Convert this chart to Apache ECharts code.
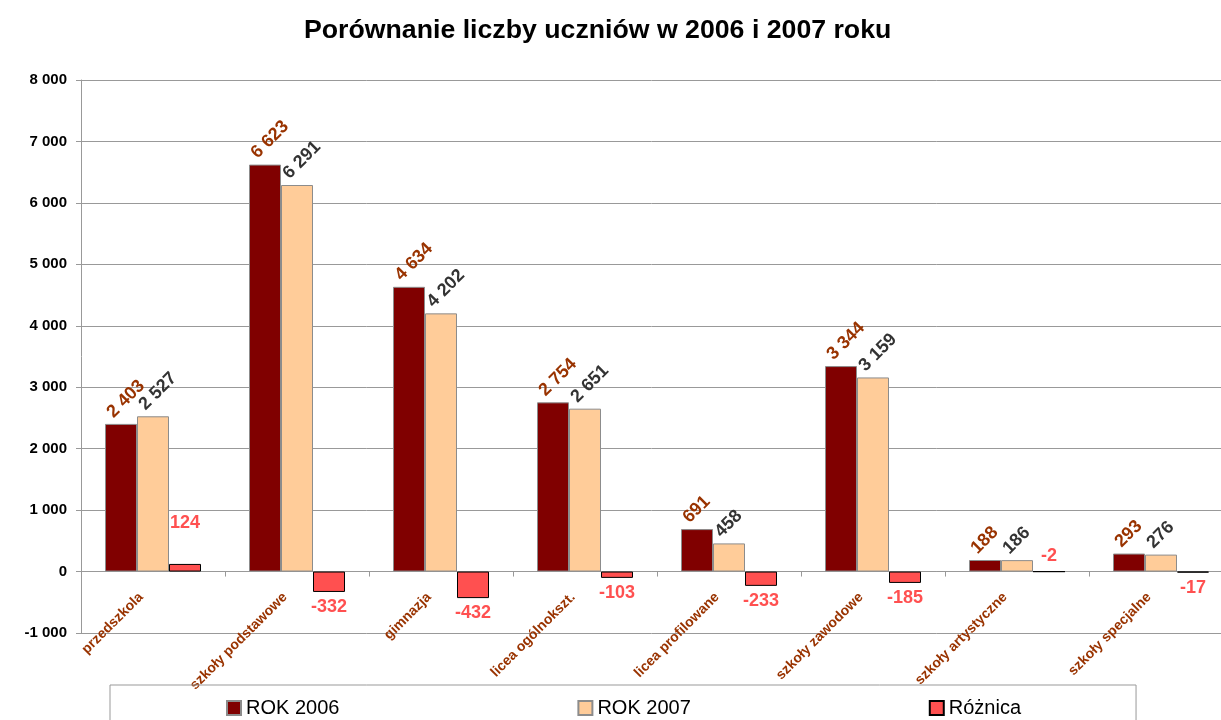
<!DOCTYPE html>
<html>
<head>
<meta charset="utf-8">
<script src="https://cdn.jsdelivr.net/npm/echarts@6/dist/echarts.min.js"></script>
<style>
  html, body { margin: 0; padding: 0; background: #fff; }
  #main { width: 1221px; height: 720px; }
</style>
</head>
<body>
<div id="main"></div>
<script>
var categories = ['przedszkola', 'szkoły podstawowe', 'gimnazja', 'licea ogólnokszt.',
  'licea profilowane', 'szkoły zawodowe', 'szkoły artystyczne', 'szkoły specjalne'];
var rok2006 = [2403, 6623, 4634, 2754, 691, 3344, 188, 293];
var rok2007 = [2527, 6291, 4202, 2651, 458, 3159, 186, 276];
var roznica = [124, -332, -432, -103, -233, -185, -2, -17];

var font = 'Liberation Sans, Arial, sans-serif';

function fmt(v) {
  return String(v).replace(/\B(?=(\d{3})+(?!\d))/g, ' ');
}

var myChart = echarts.init(document.getElementById('main'));

var rotLabel = function (color) {
  return {
    show: true,
    position: [5, -9],
    rotate: 45,
    align: 'left',
    verticalAlign: 'middle',
    color: color,
    fontFamily: font,
    fontSize: 18,
    fontWeight: 'bold',
    formatter: function (p) { return fmt(p.value); }
  };
};

myChart.setOption({
  animation: false,
  title: {
    text: 'Porównanie liczby uczniów w 2006 i 2007 roku',
    left: 299,
    top: 12,
    textStyle: { fontFamily: font, fontSize: 26.7, fontWeight: 'bold', color: '#000' }
  },
  legend: {
    left: 110,
    top: 685,
    padding: [13, 115, 40, 116],
    itemGap: 238,
    itemWidth: 14,
    itemHeight: 14,
    icon: 'rect',
    borderColor: '#999',
    borderWidth: 1,
    textStyle: { fontFamily: font, fontSize: 20, color: '#000' },
    data: ['ROK 2006', 'ROK 2007', 'Różnica']
  },
  grid: { left: 81, right: -12, top: 80, bottom: 87, containLabel: false, outerBoundsMode: 'none' },
  xAxis: {
    type: 'category',
    data: categories,
    axisLine: { onZero: true, lineStyle: { color: '#999' } },
    axisTick: { show: true, length: 5, lineStyle: { color: '#999' } },
    axisLabel: {
      rotate: 45,
      // labels sit by the zero line, not the bottom of the grid
      margin: -50,
      padding: [0, 17, 0, 0],
      color: '#993300',
      fontFamily: font,
      fontSize: 14,
      fontWeight: 'bold'
    }
  },
  yAxis: {
    type: 'value',
    min: -1000,
    max: 8000,
    interval: 1000,
    axisLine: { show: true, lineStyle: { color: '#999' } },
    axisTick: { show: true, length: 5, lineStyle: { color: '#999' } },
    splitLine: { lineStyle: { color: '#999' } },
    axisLabel: {
      margin: 14,
      color: '#000',
      fontFamily: font,
      fontSize: 15,
      fontWeight: 'bold',
      formatter: function (v) { return fmt(v); }
    }
  },
  series: [
    {
      name: 'ROK 2006',
      type: 'bar',
      barWidth: 32,
      barGap: '0%',
      data: rok2006,
      itemStyle: { color: '#800000', borderColor: '#8c8c8c', borderWidth: 1 },
      label: rotLabel('#993300')
    },
    {
      name: 'ROK 2007',
      type: 'bar',
      barWidth: 32,
      barGap: '0%',
      data: rok2007,
      itemStyle: { color: '#FFCC99', borderColor: '#8c8c8c', borderWidth: 1 },
      label: rotLabel('#333333')
    },
    {
      name: 'Różnica',
      type: 'bar',
      barWidth: 32,
      barGap: '0%',
      data: roznica.map(function (v, i) {
        var lbl = { position: v >= 0 || i === 6 ? 'top' : 'bottom' };
        if (i === 0) lbl.distance = 32;
        return { value: v, label: lbl };
      }),
      itemStyle: { color: '#FF5050', borderColor: '#000', borderWidth: 1 },
      label: {
        show: true,
        distance: 6,
        color: '#FF5050',
        fontFamily: font,
        fontSize: 18,
        fontWeight: 'bold',
        formatter: function (p) { return fmt(p.value); }
      }
    }
  ]
});
</script>
</body>
</html>
